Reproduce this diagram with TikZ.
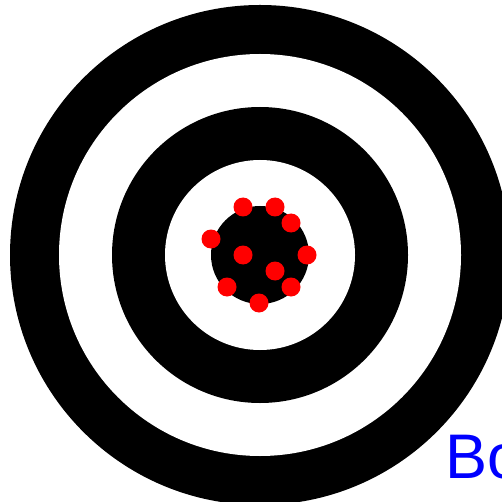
\documentclass[tikz,border=0pt]{standalone}
\usepackage{fontspec}
\setmainfont{Liberation Sans}
\definecolor{hitred}{RGB}{255,0,0}
\definecolor{labelblue}{RGB}{0,0,255}
\tikzset{
  hit/.style={circle,fill=hitred,inner sep=0pt,minimum size=19pt},
  ringblack/.style={fill=black},
  ringwhite/.style={fill=white}
}
\begin{document}
\begin{tikzpicture}[x=1pt,y=-1pt]
\useasboundingbox (0,0) rectangle (502,502);
\clip (0,0) rectangle (502,502);
\fill[white] (0,0) rectangle (502,502);
\coordinate (c) at (260,255);
\fill[ringblack] (c) circle (250);
\fill[ringwhite] (c) circle (201);
\fill[ringblack] (c) circle (148);
\fill[ringwhite] (c) circle (95);
\fill[ringblack] (c) circle (49);
\node[hit] (h1) at (243,207) {};
\node[hit] (h2) at (275,207) {};
\node[hit] (h3) at (291,223) {};
\node[hit] (h4) at (211,239) {};
\node[hit] (h5) at (243,255) {};
\node[hit] (h6) at (307,255) {};
\node[hit] (h7) at (275,271) {};
\node[hit] (h8) at (227,287) {};
\node[hit] (h9) at (291,287) {};
\node[hit] (h10) at (259,303) {};
\node[anchor=base west,inner sep=0pt,text=labelblue,font=\fontsize{63}{70}\selectfont] (lbl) at (445,478) {Bo};
\end{tikzpicture}
\end{document}
